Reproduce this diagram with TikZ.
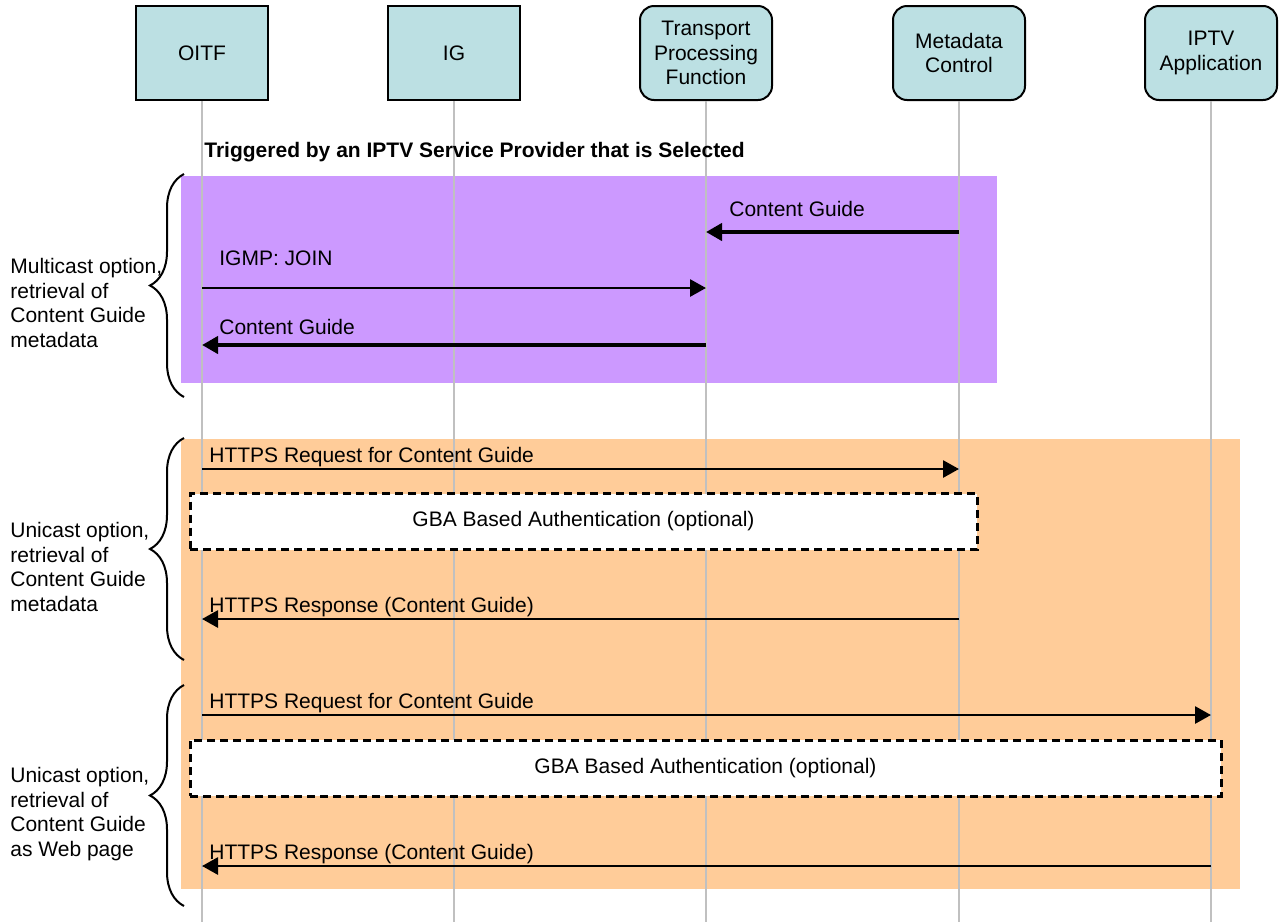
\documentclass[tikz,border=0pt]{standalone}
\usepackage{fontspec}
\setmainfont{Liberation Sans}
\usetikzlibrary{arrows.meta,decorations.pathreplacing}

\definecolor{boxteal}{HTML}{BCE0E3}
\definecolor{mcastviolet}{HTML}{CC99FF}
\definecolor{ucastpeach}{HTML}{FFCC99}
\definecolor{lifegray}{HTML}{C0C0C0}

\begin{document}
\begin{tikzpicture}[x=0.5pt, y=-0.5pt,
  font=\fontsize{10.5}{12.3}\selectfont,
  entity/.style={draw, line width=1pt, fill=boxteal, minimum width=66pt,
    minimum height=47pt, align=center, inner sep=0pt},
  rentity/.style={entity, rounded corners=7pt},
  life/.style={draw=lifegray, line width=1pt},
  msg/.style={line width=1.4pt, -{Triangle[length=8pt,width=8.5pt]}},
  bigmsg/.style={msg, line width=2pt},
  msglabel/.style={anchor=base west, inner sep=0pt},
  authbox/.style={draw, fill=white, line width=1.5pt,
    dash pattern=on 4pt off 2.5pt, minimum height=28pt, inner sep=0pt},
  grp/.style={decorate, decoration={brace, amplitude=17pt}, line width=1pt},
  side/.style={anchor=west, align=left, inner sep=0pt}]
  \useasboundingbox (0,0) rectangle (1280,922);
  % entities
  \node[entity]  (oitf) at (202,53)  {OITF};
  \node[entity]  (ig)   at (454,53)  {IG};
  \node[rentity] (tpf)  at (706,53)  {Transport\\Processing\\Function};
  \node[rentity] (mc)   at (959,53)  {Metadata\\Control};
  \node[rentity] (app)  at (1211,53) {IPTV\\Application};
  \coordinate (bot) at (0,922);
  % option areas
  \fill[mcastviolet] (181,176) rectangle (997,383);
  \fill[ucastpeach]  (181,439) rectangle (1240,889);
  \foreach \e in {oitf,ig,tpf,mc,app}
    \draw[life] (\e) -- (\e |- bot);
  \node[anchor=base west, inner sep=0pt,
    font=\fontsize{10.5}{12.3}\selectfont\bfseries] (trig) at (204,157)
    {Triggered by an IPTV Service Provider that is Selected};
  % message rows
  \coordinate (m1) at (0,232);
  \coordinate (m2) at (0,288);
  \coordinate (m3) at (0,345);
  \coordinate (m4) at (0,469);
  \coordinate (m5) at (0,619);
  \coordinate (m6) at (0,715);
  \coordinate (m7) at (0,866);
  % multicast
  \draw[bigmsg] (mc |- m1) -- (tpf |- m1);
  \node[msglabel] (l1) at (729,216) {Content Guide};
  \draw[msg] (oitf |- m2) -- (tpf |- m2);
  \node[msglabel] (l2) at (219,265) {IGMP: JOIN};
  \draw[bigmsg] (tpf |- m3) -- (oitf |- m3);
  \node[msglabel] (l3) at (219,334) {Content Guide};
  % unicast, metadata
  \draw[msg] (oitf |- m4) -- (mc |- m4);
  \node[msglabel] (l4) at (209,462) {HTTPS Request for Content Guide};
  \node[authbox, minimum width=393.5pt] (gba1) at (583.5,521.5)
    {GBA Based Authentication (optional)};
  \draw[msg] (mc |- m5) -- (oitf |- m5);
  \node[msglabel] (l5) at (209,612) {HTTPS Response (Content Guide)};
  % unicast, web page
  \draw[msg] (oitf |- m6) -- (app |- m6);
  \node[msglabel] (l6) at (209,708) {HTTPS Request for Content Guide};
  \node[authbox, minimum width=515.5pt] (gba2) at (705.5,768)
    {GBA Based Authentication (optional)};
  \draw[msg] (app |- m7) -- (oitf |- m7);
  \node[msglabel] (l7) at (209,859) {HTTPS Response (Content Guide)};
  % braces and their texts
  \draw[grp] (184,397) -- (184,174);
  \draw[grp] (184,660) -- (184,438);
  \draw[grp] (184,906) -- (184,685);
  \node[side] (g1) at (10,303) {Multicast option,\\retrieval of\\Content Guide\\metadata};
  \node[side] (g2) at (10,567) {Unicast option,\\retrieval of\\Content Guide\\metadata};
  \node[side] (g3) at (10,814) {Unicast option,\\retrieval of\\Content Guide\\as Web page};
\end{tikzpicture}
\end{document}
